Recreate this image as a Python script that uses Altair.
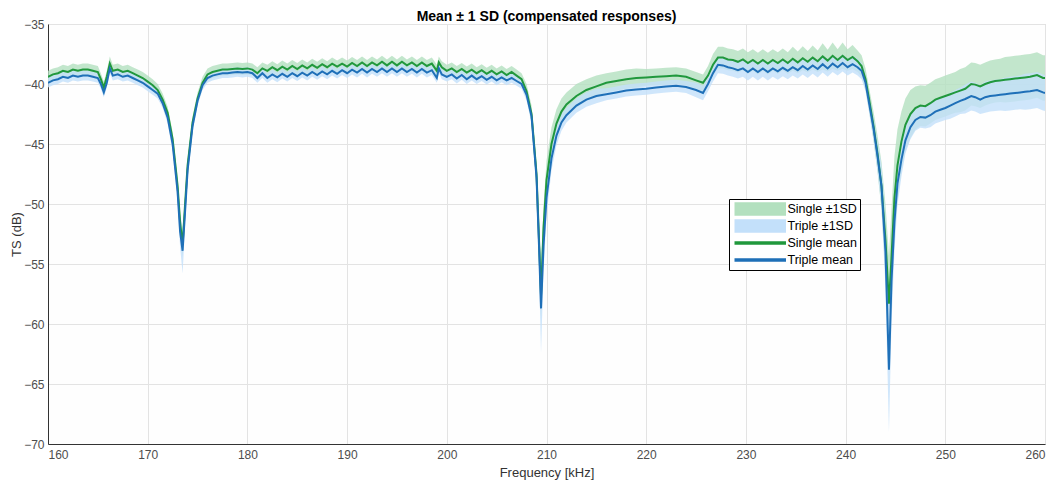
import altair as alt
import pandas as pd

# ---- data (frequency in kHz, TS in dB) ----
freq = [
    160, 160.5, 161, 161.5, 162, 162.5, 163, 163.5, 164, 164.5, 165,
    165.3, 165.6, 165.9, 166.2, 166.5, 167, 167.5, 168, 168.5, 169, 169.5, 170,
    170.5, 171, 171.5, 172, 172.5, 173, 173.25, 173.5, 173.75, 174, 174.5, 175, 175.5, 176,
    176.5, 177, 177.5, 178, 178.5, 179, 179.5, 180, 180.5, 181, 181.5,
    182, 182.5, 183, 183.5, 184, 184.5, 185, 185.5, 186, 186.5, 187, 187.5, 188, 188.5, 189, 189.5, 190, 190.5,
    191, 191.5, 192, 192.5, 193, 193.5, 194, 194.5, 195, 195.5, 196, 196.5, 197, 197.5, 198, 198.5,
    199, 199.2, 199.5, 200, 200.5, 201, 201.5, 202, 202.5, 203, 203.5, 204, 204.5, 205, 205.5, 206, 206.5, 207, 207.5,
    208, 208.5, 209, 209.25, 209.45, 209.7, 210, 210.5, 211, 211.5, 212,
    213, 214, 215, 216, 217, 218, 219, 220, 221, 222, 223, 224, 225, 225.7,
    226.2, 226.7, 227.2, 227.7, 228.2, 228.7, 229.2, 229.7, 230.2, 230.7, 231.2, 231.7, 232.2, 232.7, 233.2, 233.7,
    234.2, 234.7, 235.2, 235.7, 236.2, 236.7, 237.2, 237.7, 238.2, 238.7, 239.2, 239.7, 240.2, 240.7, 241.2, 241.6,
    242.0, 242.4, 242.8, 243.2, 243.6, 244.0, 244.35, 244.6, 244.9, 245.2, 245.6, 246.0, 246.5,
    247, 247.5, 248, 248.5, 249, 249.5, 250, 250.5, 251, 251.5, 252, 252.6, 253, 253.5, 254, 254.5, 255, 255.5,
    256, 256.5, 257, 257.5, 258, 258.5, 259.2, 259.8, 260,
]

single_mean = [
    -39.4, -39.2, -39.1, -38.9, -39.0, -38.8, -38.9, -38.8, -38.8, -38.9, -39.0,
    -39.6, -40.3, -39.4, -38.3, -38.9, -38.8, -39.0, -38.9, -39.1, -39.3, -39.5, -39.8,
    -40.1, -40.5, -41.3, -42.4, -44.6, -48.5, -51.5, -53.4, -50.0, -46.8, -43.2, -41.2, -39.9, -39.2,
    -39.0, -38.9, -38.8, -38.8, -38.75, -38.7, -38.75, -38.7, -38.8, -39.1, -38.7,
    -38.9, -38.6, -38.85, -38.55, -38.8, -38.5, -38.75, -38.45, -38.7, -38.4, -38.65, -38.35, -38.6, -38.3, -38.55, -38.3, -38.55, -38.25,
    -38.5, -38.2, -38.5, -38.2, -38.45, -38.15, -38.45, -38.15, -38.45, -38.15, -38.45, -38.2, -38.5, -38.2, -38.5, -38.3,
    -38.9, -38.2, -38.6, -38.9, -38.7, -39.0, -38.75, -39.05, -38.8, -39.1, -38.85, -39.15, -38.9, -39.2, -38.95, -39.25, -39.0, -39.3, -39.6,
    -40.6, -42.5, -47.5, -53.0, -57.6, -52.0, -48.0, -45.0, -43.3, -42.3, -41.7,
    -41.0, -40.5, -40.2, -39.9, -39.75, -39.6, -39.5, -39.45, -39.4, -39.35, -39.3, -39.4, -39.7, -39.9,
    -39.3, -38.4, -37.8, -37.8, -37.95, -38.0, -38.15, -37.95, -38.25, -38.0, -38.3, -38.0, -38.3, -38.0, -38.25, -37.95,
    -38.25, -37.9, -38.2, -37.85, -38.15, -37.8, -38.1, -37.7, -38.05, -37.65, -38.0, -37.65, -38.0, -37.75, -38.1, -38.5,
    -39.6, -41.5, -43.5, -45.8, -48.5, -53.0, -58.3, -54.5, -49.5, -46.8, -44.8, -43.4, -42.5,
    -42.0, -41.8, -41.85, -41.6, -41.3, -41.15, -41.0, -40.85, -40.7, -40.55, -40.4, -40.0, -40.05, -40.2, -40.0, -39.85, -39.75, -39.7,
    -39.65, -39.6, -39.55, -39.5, -39.45, -39.4, -39.25, -39.5, -39.5,
]

triple_mean = [
    -39.9, -39.7, -39.6, -39.4, -39.5, -39.3, -39.4, -39.3, -39.3, -39.4, -39.5,
    -40.0, -40.7, -39.9, -38.7, -39.3, -39.2, -39.4, -39.3, -39.5, -39.7, -39.9, -40.2,
    -40.5, -40.8, -41.6, -42.8, -45.0, -49.0, -52.3, -53.9, -50.6, -47.2, -43.5, -41.4, -40.1, -39.5,
    -39.3, -39.2, -39.1, -39.1, -39.05, -39.0, -39.05, -39.0, -39.1, -39.5, -39.1,
    -39.5, -39.2, -39.45, -39.15, -39.4, -39.1, -39.35, -39.05, -39.3, -39.0, -39.25, -38.95, -39.2, -38.9, -39.15, -38.85, -39.1, -38.8,
    -39.05, -38.75, -39.05, -38.75, -39.0, -38.7, -39.0, -38.7, -39.0, -38.7, -39.0, -38.75, -39.05, -38.75, -39.05, -38.85,
    -39.5, -38.7, -39.2, -39.4, -39.2, -39.55, -39.25, -39.6, -39.3, -39.6, -39.35, -39.65, -39.4, -39.7, -39.45, -39.7, -39.5, -39.75, -40.0,
    -40.9, -42.7, -47.8, -53.5, -58.7, -53.5, -49.5, -46.2, -44.3, -43.2, -42.6,
    -41.8, -41.3, -41.0, -40.85, -40.7, -40.55, -40.45, -40.4, -40.3, -40.2, -40.15, -40.25, -40.5, -40.75,
    -40.0, -39.1, -38.4, -38.45, -38.6, -38.7, -38.85, -38.7, -39.0, -38.7, -39.0, -38.7, -39.0, -38.7, -38.95, -38.65,
    -38.9, -38.6, -38.85, -38.5, -38.8, -38.45, -38.75, -38.35, -38.7, -38.3, -38.6, -38.25, -38.6, -38.35, -38.6, -38.9,
    -39.9, -41.8, -43.7, -46.0, -48.5, -54.0, -63.8, -56.5, -51.5, -48.3, -46.3, -44.7, -43.6,
    -43.0, -42.75, -42.8, -42.6, -42.3, -42.15, -42.0, -41.8, -41.6, -41.4, -41.25, -41.0, -41.1, -41.3, -41.1, -41.0, -40.95, -40.9,
    -40.85, -40.8, -40.75, -40.7, -40.65, -40.6, -40.5, -40.7, -40.75,
]

single_sd = [
    0.5, 0.5, 0.5, 0.5, 0.5, 0.5, 0.5, 0.5, 0.5, 0.5, 0.5,
    0.5, 0.5, 0.5, 0.6, 0.5, 0.5, 0.5, 0.5, 0.5, 0.5, 0.5, 0.5,
    0.5, 0.5, 0.5, 0.5, 0.6, 0.7, 0.9, 1.0, 0.8, 0.6, 0.5, 0.5, 0.5, 0.5,
    0.5, 0.5, 0.5, 0.5, 0.5, 0.5, 0.5, 0.5, 0.5, 0.5, 0.5,
    0.5, 0.5, 0.5, 0.5, 0.5, 0.5, 0.5, 0.5, 0.5, 0.5, 0.5, 0.5, 0.5, 0.5, 0.5, 0.5, 0.5, 0.5,
    0.5, 0.5, 0.5, 0.5, 0.5, 0.5, 0.5, 0.5, 0.5, 0.5, 0.5, 0.5, 0.5, 0.5, 0.5, 0.5,
    0.5, 0.5, 0.5, 0.5, 0.5, 0.5, 0.5, 0.5, 0.5, 0.5, 0.5, 0.5, 0.5, 0.5, 0.5, 0.5, 0.5, 0.5, 0.5,
    0.6, 0.7, 1.0, 1.5, 2.0, 1.8, 1.6, 1.4, 1.2, 1.1, 1.0,
    1.0, 0.9, 0.9, 0.8, 0.8, 0.8, 0.8, 0.7, 0.7, 0.7, 0.7, 0.7, 0.7, 0.7,
    0.8, 0.9, 0.9, 0.9, 0.9, 0.9, 0.9, 0.9, 0.9, 0.9, 0.9, 0.9, 0.9, 0.9, 0.9, 0.9,
    0.9, 1.0, 0.9, 1.0, 0.9, 1.0, 0.9, 1.1, 0.9, 1.1, 0.9, 1.1, 0.9, 1.0, 0.9, 0.9,
    0.9, 1.0, 1.2, 1.5, 2.0, 3.0, 4.0, 4.0, 3.5, 3.0, 2.5, 2.2, 2.0,
    1.8, 1.7, 1.7, 1.7, 1.7, 1.7, 1.7, 1.7, 1.7, 1.8, 1.8, 1.8, 1.8, 1.8, 1.8, 1.8, 1.8, 1.8,
    1.9, 1.9, 1.9, 1.9, 1.9, 1.9, 1.9, 1.9, 1.9,
]

triple_sd = [
    0.4, 0.4, 0.4, 0.4, 0.4, 0.4, 0.4, 0.4, 0.4, 0.4, 0.4,
    0.4, 0.4, 0.4, 0.4, 0.4, 0.4, 0.4, 0.4, 0.4, 0.4, 0.4, 0.4,
    0.4, 0.4, 0.4, 0.5, 0.6, 0.9, 1.3, 1.9, 1.2, 0.8, 0.5, 0.4, 0.4, 0.4,
    0.4, 0.4, 0.4, 0.4, 0.4, 0.4, 0.4, 0.4, 0.4, 0.4, 0.4,
    0.4, 0.4, 0.4, 0.4, 0.4, 0.4, 0.4, 0.4, 0.4, 0.4, 0.4, 0.4, 0.4, 0.4, 0.4, 0.4, 0.4, 0.4,
    0.4, 0.4, 0.4, 0.4, 0.4, 0.4, 0.4, 0.4, 0.4, 0.4, 0.4, 0.4, 0.4, 0.4, 0.4, 0.4,
    0.4, 0.4, 0.4, 0.4, 0.4, 0.4, 0.4, 0.4, 0.4, 0.4, 0.4, 0.4, 0.4, 0.4, 0.4, 0.4, 0.4, 0.4, 0.4,
    0.5, 0.6, 1.0, 2.0, 3.7, 2.2, 1.5, 1.0, 0.8, 0.7, 0.6,
    0.6, 0.6, 0.6, 0.5, 0.5, 0.5, 0.5, 0.5, 0.5, 0.5, 0.5, 0.5, 0.6, 0.6,
    0.6, 0.7, 0.7, 0.7, 0.7, 0.7, 0.7, 0.7, 0.7, 0.7, 0.7, 0.7, 0.7, 0.7, 0.7, 0.7,
    0.7, 0.7, 0.7, 0.7, 0.7, 0.7, 0.7, 0.7, 0.7, 0.7, 0.7, 0.7, 0.7, 0.7, 0.7, 0.7,
    0.7, 0.8, 1.0, 1.3, 1.8, 3.0, 5.2, 3.5, 2.5, 1.8, 1.4, 1.1, 1.0,
    0.9, 0.9, 0.9, 1.0, 1.0, 1.0, 1.0, 1.1, 1.1, 1.1, 1.2, 1.2, 1.2, 1.2, 1.3, 1.3, 1.3, 1.3,
    1.4, 1.4, 1.4, 1.4, 1.5, 1.5, 1.5, 1.5, 1.5,
]

n = len(freq)
assert len(single_mean) == n and len(triple_mean) == n, (n, len(single_mean), len(triple_mean))
assert len(single_sd) == n and len(triple_sd) == n, (n, len(single_sd), len(triple_sd))

series_names = ["Single \u00b11SD", "Triple \u00b11SD", "Single mean", "Triple mean"]
series_colors = ["#b3e0bf", "#c3e0fa", "#21983d", "#1f70b8"]

# ---- tables ----
bands = pd.concat([
    pd.DataFrame({
        "f": freq,
        "lo": [m - s for m, s in zip(single_mean, single_sd)],
        "hi": [m + s for m, s in zip(single_mean, single_sd)],
        "series": series_names[0],
    }),
    pd.DataFrame({
        "f": freq,
        "lo": [m - s for m, s in zip(triple_mean, triple_sd)],
        "hi": [m + s for m, s in zip(triple_mean, triple_sd)],
        "series": series_names[1],
    }),
])
means = pd.concat([
    pd.DataFrame({"f": freq, "v": single_mean, "series": series_names[2]}),
    pd.DataFrame({"f": freq, "v": triple_mean, "series": series_names[3]}),
])
legend_df = pd.DataFrame({"f": [freq[0]] * 4, "v": [single_mean[0]] * 4, "series": series_names})

FONT = "Liberation Sans"
# legend glyphs: a filled patch and a thin bar standing in for a line (same bounds)
patch = "M-5,-1.2H5V1.2H-5Z"
stroke = "M-5,-1.2M-5,1.2M-5,-0.2H5V0.2H-5Z"

legend = alt.Legend(
    title=None, orient="none", legendX=681, legendY=175,
    strokeColor="black", fillColor="white", padding=3,
    symbolSize=100, symbolOpacity=1, symbolOffset=22, labelOffset=21,
    labelFont=FONT, labelFontSize=12.5, labelColor="black",
    rowPadding=3, clipHeight=14,
)
color_scale = alt.Scale(domain=series_names, range=series_colors)
shape_scale = alt.Scale(domain=series_names, range=[patch, patch, stroke, stroke])

xenc = alt.X("f:Q", title="Frequency [kHz]",
             scale=alt.Scale(domain=[160, 260], nice=False, zero=False),
             axis=alt.Axis(values=list(range(160, 261, 10)), format="d"))
yscale = alt.Scale(domain=[-70, -35], nice=False, zero=False)
yaxis = alt.Axis(values=list(range(-70, -34, 5)), format="d")

band_layer = alt.Chart(bands).mark_area(opacity=0.8, clip=True).encode(
    x=xenc,
    y=alt.Y("lo:Q", title="TS (dB)", scale=yscale, axis=yaxis),
    y2="hi:Q",
    color=alt.Color("series:N", scale=color_scale, legend=legend, sort=series_names),
    detail="series:N",
)
line_layer = alt.Chart(means).mark_line(strokeWidth=2, clip=True).encode(
    x=xenc,
    y=alt.Y("v:Q", scale=yscale, axis=yaxis, title="TS (dB)"),
    color=alt.Color("series:N", scale=color_scale, legend=legend, sort=series_names),
    order=alt.Order("f:Q"),
)
legend_layer = alt.Chart(legend_df).mark_point(filled=True, opacity=0).encode(
    x=xenc,
    y=alt.Y("v:Q", scale=yscale, axis=yaxis, title="TS (dB)"),
    color=alt.Color("series:N", scale=color_scale, legend=legend, sort=series_names),
    shape=alt.Shape("series:N", scale=shape_scale, legend=legend, sort=series_names),
)

chart = alt.layer(band_layer, line_layer, legend_layer).properties(
    width=997, height=420,
    title=alt.TitleParams("Mean \u00b1 1 SD (compensated responses)", font=FONT,
                          fontSize=14, fontWeight="bold", color="black", offset=-6),
    padding={"left": 40, "top": 16, "right": 5, "bottom": 36},
    autosize=alt.AutoSizeParams(type="none"),
).configure_view(
    stroke="#cfcfcf", fill="#fefefe"
).configure_axis(
    labelFont=FONT, labelFontSize=12, labelColor="#4d4d4d",
    titleFont=FONT, titleFontSize=13, titleColor="#333333", titleFontWeight="normal",
    gridColor="#e3e3e3", gridWidth=1, domainColor="#333333", domainWidth=1,
    ticks=False, labelPadding=4,
).configure_axisX(
    titlePadding=6, labelPadding=5,
).configure_axisY(
    titlePadding=0,
)

chart.save("out.html", embed_options={"renderer": "svg", "actions": False})
